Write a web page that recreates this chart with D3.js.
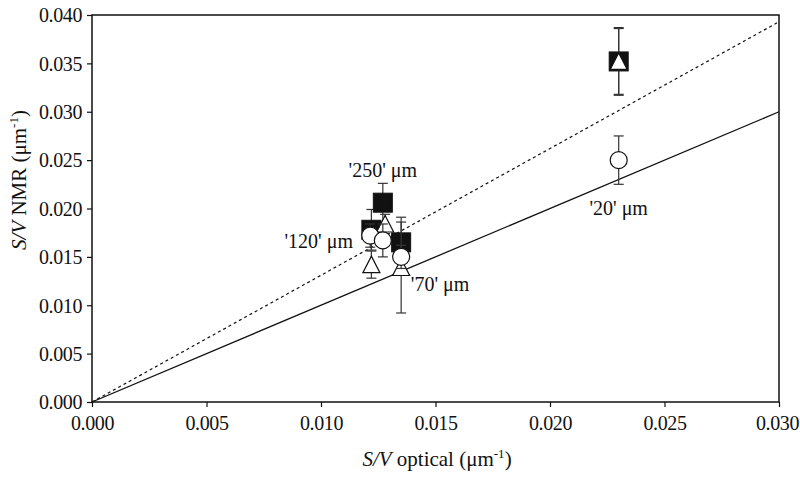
<!DOCTYPE html>
<html><head><meta charset="utf-8">
<script src="https://cdn.jsdelivr.net/npm/d3@7"></script>
<style>body{margin:0;background:#fff}svg{display:block}text{font-family:"Liberation Serif","Times New Roman",serif;fill:#111}</style>
</head><body><svg id="c" width="800" height="484"></svg>
<script>
// ---- data ----
const xTicks = [0, 0.005, 0.010, 0.015, 0.020, 0.025, 0.030];
const yTicks = [0, 0.005, 0.010, 0.015, 0.020, 0.025, 0.030, 0.035, 0.040];
// [x, y, error]
const squares = [[0.0122, 0.0178, 0.0021], [0.0127, 0.0206, 0.0020], [0.0135, 0.0165, 0.0026], [0.0230, 0.0352, 0.0035]];
const triangles = [[0.0122, 0.0142, 0.0014], [0.0128, 0.0184, 0.0010], [0.0135, 0.0139, 0.0047], [0.0230, 0.0352, 0.0034]];
const circles = [[0.01215, 0.0172, 0.0012], [0.0127, 0.0167, 0.0017], [0.0135, 0.0150, 0.0012], [0.0230, 0.0250, 0.0025]];
const lineX = [0, 0.030];
const solidY = [0, 0.030];
const dottedY = [0, 0.0393];
const labels = ["'250' μm", "'120' μm", "'70' μm", "'20' μm"];
const labelPos = [[0.0127, 0.0233], [0.0099, 0.0159], [0.0152, 0.0115], [0.0230, 0.0193]];

// ---- layout ----
const L = 92, R = 779, T = 15, B = 402;
const svg = d3.select("#c");
const x = d3.scaleLinear().domain([0, 0.030]).range([L, R]);
const y = d3.scaleLinear().domain([0, 0.040]).range([B, T]);

// axes
const fmt = d3.format(".3f");
const gx = svg.append("g").attr("transform", `translate(0,${B})`)
  .call(d3.axisBottom(x).tickValues(xTicks).tickFormat(fmt).tickSize(5).tickPadding(6));
const gy = svg.append("g").attr("transform", `translate(${L},0)`)
  .call(d3.axisLeft(y).tickValues(yTicks).tickFormat(fmt).tickSize(5).tickPadding(5));
[gx, gy].forEach(g => {
  g.select(".domain").remove();
  g.selectAll("line").attr("stroke", "#111").attr("stroke-width", 1.2);
  g.selectAll("text").attr("font-size", 20).attr("letter-spacing", -0.4).attr("font-family", '"Liberation Serif",serif').attr("fill", "#111");
});
gy.selectAll("text").attr("dy", "0.34em");
gx.selectAll("text").attr("dy", "0.85em").attr("dx", (d, i) => i === xTicks.length - 1 ? -2 : 0);

// frame
svg.append("rect").attr("x", L).attr("y", T).attr("width", R - L).attr("height", B - T)
  .attr("fill", "none").attr("stroke", "#111").attr("stroke-width", 1.5);

// lines
const ln = d3.line().x(d => x(d[0])).y(d => y(d[1]));
svg.append("path").attr("d", ln(lineX.map((v, i) => [v, dottedY[i]])))
  .attr("stroke", "#111").attr("stroke-width", 1.2).attr("stroke-dasharray", "3,3").attr("fill", "none");
svg.append("path").attr("d", ln(lineX.map((v, i) => [v, solidY[i]])))
  .attr("stroke", "#111").attr("stroke-width", 1.3).attr("fill", "none");

function errBars(data) {
  const g = svg.append("g").attr("stroke", "#333").attr("stroke-width", 1.2);
  data.forEach(d => {
    const cx = x(d[0]), y1 = y(d[1] + d[2]), y2 = y(d[1] - d[2]);
    g.append("line").attr("x1", cx).attr("x2", cx).attr("y1", y1).attr("y2", y2);
    g.append("line").attr("x1", cx - 5).attr("x2", cx + 5).attr("y1", y1).attr("y2", y1);
    g.append("line").attr("x1", cx - 5).attr("x2", cx + 5).attr("y1", y2).attr("y2", y2);
  });
}

// squares
errBars(squares);
svg.append("g").selectAll("rect").data(squares).join("rect")
  .attr("x", d => x(d[0]) - 9.5).attr("y", d => y(d[1]) - 9.5).attr("width", 19).attr("height", 19)
  .attr("fill", "#111").attr("stroke", "#111").attr("stroke-width", 1);

// triangles
errBars(triangles);
svg.append("g").selectAll("path").data(triangles).join("path")
  .attr("d", d => { const cx = x(d[0]), cy = y(d[1]); return `M${cx},${cy - 8.5}L${cx + 8.5},${cy + 8}L${cx - 8.5},${cy + 8}Z`; })
  .attr("fill", "#fff").attr("stroke", "#111").attr("stroke-width", 1.2);

// circles
errBars(circles);
svg.append("g").selectAll("circle").data(circles).join("circle")
  .attr("cx", d => x(d[0])).attr("cy", d => y(d[1])).attr("r", 8.5)
  .attr("fill", "#fff").attr("stroke", "#111").attr("stroke-width", 1.2);

// labels
svg.append("g").selectAll("text").data(labels).join("text")
  .attr("x", (d, i) => x(labelPos[i][0])).attr("y", (d, i) => y(labelPos[i][1]))
  .attr("text-anchor", "middle").attr("font-size", 20).text(d => d);

// axis titles
const xt = svg.append("text").attr("x", 437).attr("y", 466).attr("text-anchor", "middle").attr("font-size", 21);
xt.append("tspan").attr("font-style", "italic").text("S/V");
xt.append("tspan").text(" optical (μm");
xt.append("tspan").attr("font-size", 13).attr("dy", -8).text("-1");
xt.append("tspan").attr("dy", 8).text(")");

const yt = svg.append("text").attr("transform", "translate(26,180) rotate(-90)").attr("text-anchor", "middle").attr("font-size", 21);
yt.append("tspan").attr("font-style", "italic").text("S/V");
yt.append("tspan").text("  NMR (μm");
yt.append("tspan").attr("font-size", 13).attr("dy", -8).text("-1");
yt.append("tspan").attr("dy", 8).text(")");
</script></body></html>
